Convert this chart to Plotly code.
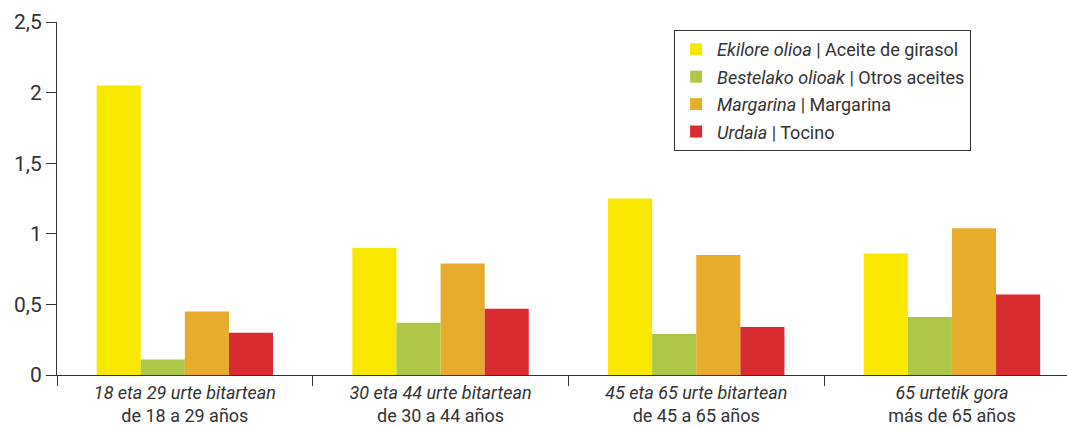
import plotly.graph_objects as go

groups = [
    "<i>18 eta 29 urte bitartean</i><br>de 18 a 29 años",
    "<i>30 eta 44 urte bitartean</i><br>de 30 a 44 años",
    "<i>45 eta 65 urte bitartean</i><br>de 45 a 65 años",
    "<i>65 urtetik gora</i><br>más de 65 años",
]
series_names = [
    "<i>Ekilore olioa</i> | Aceite de girasol",
    "<i>Bestelako olioak</i> | Otros aceites",
    "<i>Margarina</i> | Margarina",
    "<i>Urdaia</i> | Tocino",
]
girasol = [2.05, 0.90, 1.25, 0.86]
otros = [0.11, 0.37, 0.29, 0.41]
margarina = [0.45, 0.79, 0.85, 1.04]
tocino = [0.30, 0.47, 0.34, 0.57]
y_ticks = [0, 0.5, 1, 1.5, 2, 2.5]

colors = ["#F8E800", "#AFC746", "#E8AC2D", "#DA2C30"]
text_color = "#333333"

fig = go.Figure()
for i, (name, vals, col) in enumerate(
        zip(series_names, [girasol, otros, margarina, tocino], colors)):
    fig.add_trace(go.Bar(x=groups, y=vals, name=name, marker_color=col,
                         marker_line_width=0, legendgroup=f"g{i}"))

fig.update_layout(
    width=1067, height=428,
    margin=dict(l=57, r=0, t=22, b=53),
    paper_bgcolor="white", plot_bgcolor="white",
    font=dict(family="Roboto, Liberation Sans, sans-serif", color=text_color),
    separators=",.",
    barmode="group", bargap=0.31, bargroupgap=0,
    showlegend=True,
    legend=dict(
        x=0.611, y=0.977, xanchor="left", yanchor="top",
        bordercolor=text_color, borderwidth=1,
        font=dict(size=18, color=text_color),
        tracegroupgap=1, itemwidth=32,
    ),
)
fig.update_xaxes(
    type="category", range=[-0.5, 3.45], automargin=False,
    tickson="boundaries", ticks="outside", ticklen=10, tickcolor=text_color,
    ticklabelstandoff=1,
    showline=True, linecolor=text_color, linewidth=1,
    tickfont=dict(size=18, color=text_color), showgrid=False,
)
fig.update_yaxes(
    range=[0, 2.5], tickvals=y_ticks, automargin=False,
    ticks="outside", ticklen=10, tickcolor=text_color,
    showline=True, linecolor=text_color, linewidth=1,
    tickfont=dict(size=21, color=text_color), showgrid=False, zeroline=False,
)

fig.write_html("out.html", config={"displayModeBar": False},
               post_script="document.body.style.margin='0';")
